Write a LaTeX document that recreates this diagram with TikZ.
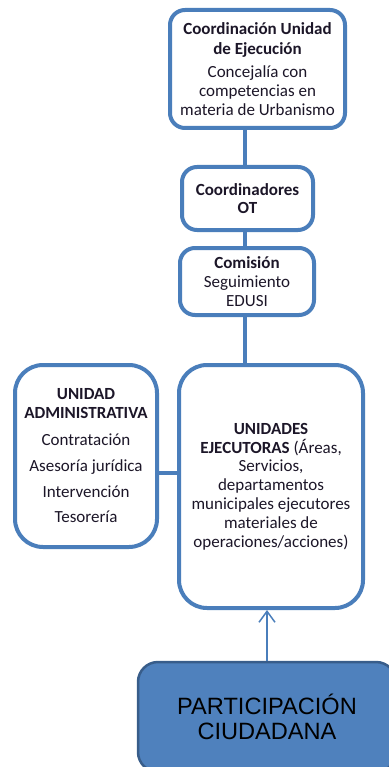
\documentclass[tikz,border=0pt]{standalone}
\usepackage{fontspec}
\setmainfont{Carlito}
\newfontfamily\arialf{Liberation Sans}
\usetikzlibrary{arrows.meta}
\definecolor{bord}{RGB}{74,126,187}
\definecolor{pfill}{RGB}{79,129,189}
\definecolor{pbord}{RGB}{56,93,138}
\definecolor{txt}{RGB}{28,22,40}
\tikzset{
  orgbox/.style={draw=bord, line width=4pt, fill=white, rounded corners=15pt,
    inner sep=0pt, align=center, text=txt, font=\fontsize{17}{18.8}\selectfont},
  bigbox/.style={orgbox, rounded corners=28pt},
  partbox/.style={draw=pbord, line width=2.5pt, fill=pfill, rounded corners=20pt,
    inner sep=0pt, align=center, text=black, font=\arialf\fontsize{23.6}{25}\selectfont},
  link/.style={draw=bord, line width=4.5pt},
  arrowlink/.style={draw=bord, line width=1.5pt, -{Straight Barb[length=11pt,width=16pt,line width=1.5pt]}}
}
\begin{document}
\begin{tikzpicture}[x=1pt,y=-1pt]
\useasboundingbox (0,0) rectangle (388,767);
\coordinate (cx) at (245,0);
\node[orgbox, minimum width=175pt, minimum height=118pt] (b1) at (257.5,69)
  {\textbf{Coordinación Unidad}\\[1pt] \textbf{de Ejecución}\\[5pt] Concejalía con\\ competencias en\\ materia de Urbanismo};
\node[orgbox, minimum width=131pt, minimum height=63pt] (b2) at (247.5,198.5)
  {\textbf{Coordinadores}\\ \textbf{OT}};
\node[orgbox, minimum width=134pt, minimum height=67pt] (b3) at (247,281.5)
  {\textbf{Comisión}\\ Seguimiento\\ EDUSI};
\node[bigbox, minimum width=184pt, minimum height=243pt] (b4) at (271,486.5)
  {\textbf{UNIDADES}\\ \textbf{EJECUTORAS} (Áreas,\\ Servicios,\\ departamentos\\ municipales ejecutores\\ materiales de\\ operaciones/acciones)};
\node[bigbox, minimum width=142pt, minimum height=182pt] (b5) at (86,456)
  {\textbf{UNIDAD}\\ \textbf{ADMINISTRATIVA}\\[8pt] Contratación\\[7pt] Asesoría jurídica\\[7pt] Intervención\\[7pt] Tesorería};
\node[partbox, minimum width=258pt, minimum height=110pt] (p) at (267,717)
  {PARTICIPACIÓN\\ CIUDADANA};
\draw[link] (b1.south -| cx) -- (b2.north -| cx);
\draw[link] (b2.south -| cx) -- (b3.north -| cx);
\draw[link] (b3.south -| cx) -- (b4.north -| cx);
\draw[link] ([yshift=-17pt]b5.east) -- ([yshift=-17pt]b5.east -| b4.west);
\draw[arrowlink] (p.north) -- (p.north |- b4.south);
\end{tikzpicture}
\end{document}
